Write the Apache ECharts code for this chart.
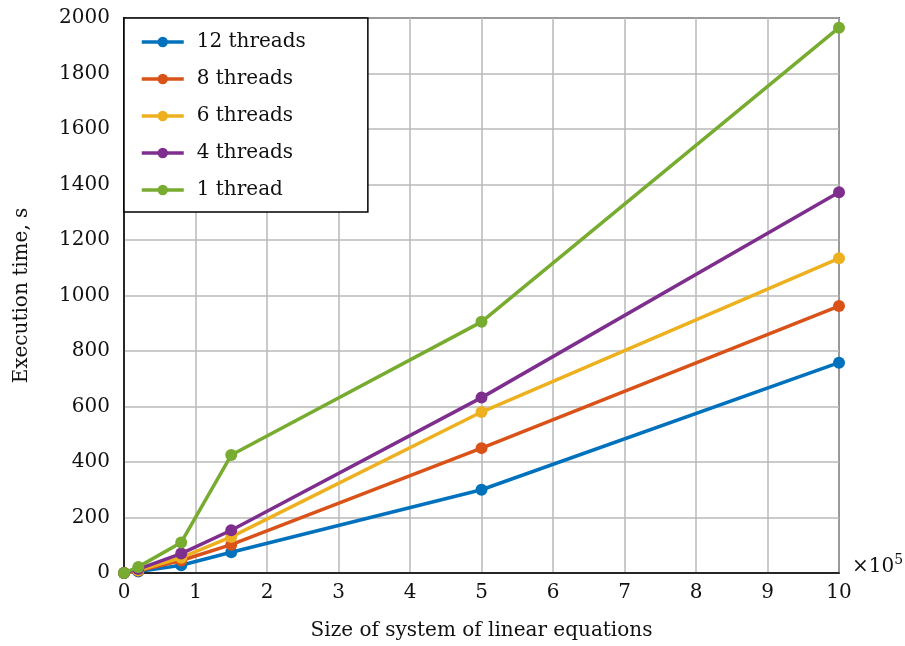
<!DOCTYPE html>
<html>
<head>
<meta charset="utf-8">
<script src="https://cdn.jsdelivr.net/npm/echarts@6/dist/echarts.min.js"></script>
<style>
  html, body { margin: 0; padding: 0; background: #fff; }
  #chart { width: 905px; height: 646px; }
</style>
</head>
<body>
<div id="chart"></div>
<script>
// system size (x 10^5)
const sizes = [0, 0.2, 0.8, 1.5, 5, 10];
// execution time, s
const t12 = [0, 5, 28, 75, 300, 758];
const t8 = [0, 8, 45, 102, 450, 962];
const t6 = [0, 10, 55, 130, 580, 1134];
const t4 = [0, 14, 70, 154, 632, 1372];
const t1 = [0, 22, 110, 425, 905, 1965];

const names = ['12 threads', '8 threads', '6 threads', '4 threads', '1 thread'];
const colors = ['#0072BD', '#D95319', '#EDB120', '#7E2F8E', '#77AC30'];
const times = [t12, t8, t6, t4, t1];

const font = 'DejaVu Serif';

const chart = echarts.init(document.getElementById('chart'));

const series = names.map((n, i) => ({
  name: n,
  type: 'line',
  data: sizes.map((x, j) => [x, times[i][j]]),
  symbol: 'circle',
  symbolSize: 12,
  lineStyle: { width: 3.5, color: colors[i] },
  itemStyle: { color: colors[i] },
  emphasis: { disabled: true },
  z: 3 + i
}));

chart.setOption({
  animation: false,
  textStyle: { fontFamily: font },
  grid: {
    left: 124, right: 66, top: 18, bottom: 72,
    show: true, borderColor: '#000', borderWidth: 1.5
  },
  legend: {
    orient: 'vertical',
    left: 124, top: 18,
    data: names,
    backgroundColor: '#fff',
    borderColor: '#000',
    borderWidth: 1.5,
    borderRadius: 0,
    padding: [14, 62, 12, 16],
    itemWidth: 42,
    itemHeight: 13,
    itemGap: 17,
    lineStyle: { width: 3.5 },
    textStyle: { fontFamily: font, fontSize: 20, color: '#111', lineHeight: 20, padding: [0, 0, 0, 8] }
  },
  xAxis: {
    type: 'value',
    min: 0, max: 10, interval: 1,
    name: 'Size of system of linear equations',
    nameLocation: 'middle',
    nameGap: 48,
    nameTextStyle: { fontFamily: font, fontSize: 20, color: '#111' },
    axisLine: { show: true, lineStyle: { color: '#000', width: 1.5 } },
    axisTick: { show: false },
    axisLabel: { fontFamily: font, fontSize: 20, color: '#111', margin: 10 },
    splitLine: { show: true, lineStyle: { color: '#b8b8b8', width: 1.5 } }
  },
  yAxis: {
    type: 'value',
    min: 0, max: 2000, interval: 200,
    name: 'Execution time, s',
    nameLocation: 'middle',
    nameGap: 92,
    nameTextStyle: { fontFamily: font, fontSize: 20, color: '#111' },
    axisLine: { show: true, lineStyle: { color: '#000', width: 1.5 } },
    axisTick: { show: false },
    axisLabel: { fontFamily: font, fontSize: 20, color: '#111', margin: 14, formatter: v => String(v) },
    splitLine: { show: true, lineStyle: { color: '#b8b8b8', width: 1.5 } }
  },
  graphic: [{
    type: 'text',
    left: 852, top: 553,
    style: {
      text: '{a|×10}{b|5}',
      rich: {
        a: { fontFamily: font, fontSize: 20, fill: '#111', verticalAlign: 'bottom' },
        b: { fontFamily: font, fontSize: 14, fill: '#111', verticalAlign: 'top', padding: [0, 0, 10, 0] }
      }
    }
  }],
  series: series
});
</script>
</body>
</html>
